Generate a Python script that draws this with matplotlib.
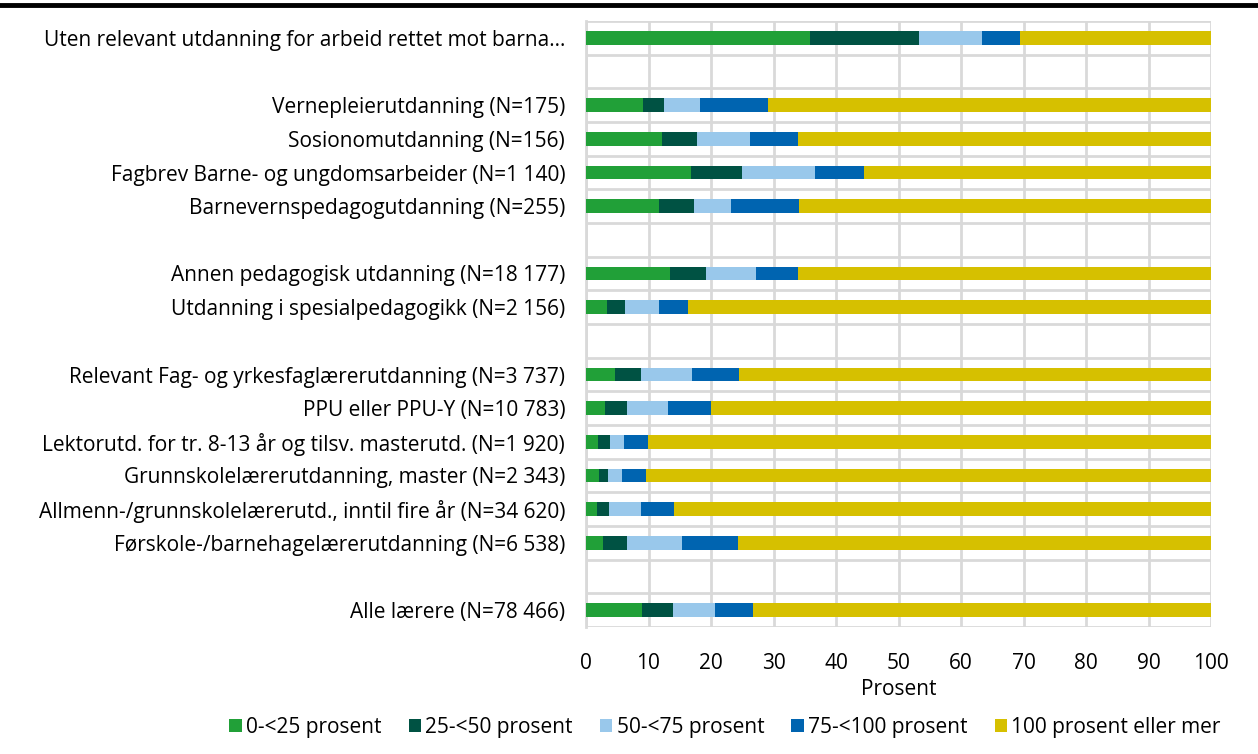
import numpy as np
import matplotlib
matplotlib.use("Agg")
from matplotlib import pyplot as plt
from matplotlib.lines import Line2D

plt.rcParams['font.family'] = ['Open Sans', 'DejaVu Sans']

categories = [
    "Uten relevant utdanning for arbeid rettet mot barna…",
    "",
    "Vernepleierutdanning (N=175)",
    "Sosionomutdanning (N=156)",
    "Fagbrev Barne- og ungdomsarbeider (N=1 140)",
    "Barnevernspedagogutdanning (N=255)",
    "",
    "Annen pedagogisk utdanning (N=18 177)",
    "Utdanning i spesialpedagogikk (N=2 156)",
    "",
    "Relevant Fag- og yrkesfaglærerutdanning (N=3 737)",
    "PPU eller PPU-Y (N=10 783)",
    "Lektorutd. for tr. 8-13 år og tilsv. masterutd. (N=1 920)",
    "Grunnskolelærerutdanning, master (N=2 343)",
    "Allmenn-/grunnskolelærerutd., inntil fire år (N=34 620)",
    "Førskole-/barnehagelærerutdanning (N=6 538)",
    "",
    "Alle lærere (N=78 466)",
]

series_names = ["0-<25 prosent", "25-<50 prosent", "50-<75 prosent",
                "75-<100 prosent", "100 prosent eller mer"]

s0_25 = [35.8, 0, 9.1, 12.1, 16.8, 11.7, 0, 13.4, 3.4, 0, 4.7, 3.0, 1.9, 2.0, 1.7, 2.7, 0, 9.0]
s25_50 = [17.4, 0, 3.4, 5.7, 8.2, 5.5, 0, 5.8, 2.8, 0, 4.1, 3.5, 1.9, 1.5, 1.9, 3.8, 0, 4.9]
s50_75 = [10.1, 0, 5.8, 8.4, 11.6, 6.0, 0, 8.0, 5.5, 0, 8.2, 6.6, 2.3, 2.3, 5.2, 8.9, 0, 6.7]
s75_100 = [6.2, 0, 10.8, 7.7, 7.8, 10.9, 0, 6.7, 4.6, 0, 7.5, 6.9, 3.8, 3.8, 5.3, 8.9, 0, 6.1]
s100 = [30.5, 0, 70.9, 66.1, 55.6, 65.9, 0, 66.1, 83.7, 0, 75.5, 80.0, 90.1, 90.4, 85.9, 75.7, 0, 73.3]

colors = ["#21A038", "#005243", "#99C8EB", "#0064B0", "#D6C000"]
fs = 15

fig = plt.figure(figsize=(12.58, 7.54), dpi=100)
ax = fig.add_axes([586 / 1258, 1 - 627 / 754, 625 / 1258, 606 / 754])

y = np.arange(len(categories))
left = np.zeros(len(categories))
for vals, col, name in zip([s0_25, s25_50, s50_75, s75_100, s100], colors, series_names):
    vals = np.array(vals)
    ax.barh(y, vals, left=left, height=0.4, color=col, label=name, zorder=3)
    left += vals

ax.set_ylim(len(categories) - 0.5, -0.5)
ax.set_xlim(0, 100)
ax.set_xticks(np.arange(0, 101, 10))
ax.set_yticks(y)
ax.set_yticklabels(categories, fontsize=fs)
ax.set_yticks(np.arange(-0.5, len(categories), 1), minor=True)
ax.tick_params(axis='y', which='both', length=0, pad=15)
ax.tick_params(axis='x', length=0, pad=19, labelsize=fs)

ax.grid(axis='x', which='major', color='#d9d9d9', lw=2, zorder=0)
ax.grid(axis='y', which='minor', color='#d9d9d9', lw=2, zorder=0)
for sp in ax.spines.values():
    sp.set_visible(False)
ax.spines['left'].set_visible(True)
ax.spines['left'].set_color('#d9d9d9')
ax.spines['left'].set_linewidth(2)

ax.set_xlabel("Prosent", fontsize=fs, labelpad=3)

ax.legend(loc='center', bbox_to_anchor=(725 / 1258, 1 - 727 / 754),
          bbox_transform=fig.transFigure, ncol=5, frameon=False, fontsize=fs,
          handlelength=0.6, handleheight=0.6, handletextpad=0.2, columnspacing=1.3)

fig.add_artist(Line2D([0, 1], [1 - 5 / 754, 1 - 5 / 754], color='black', lw=3.5,
                      transform=fig.transFigure))

fig.savefig("out.png", dpi=100)
